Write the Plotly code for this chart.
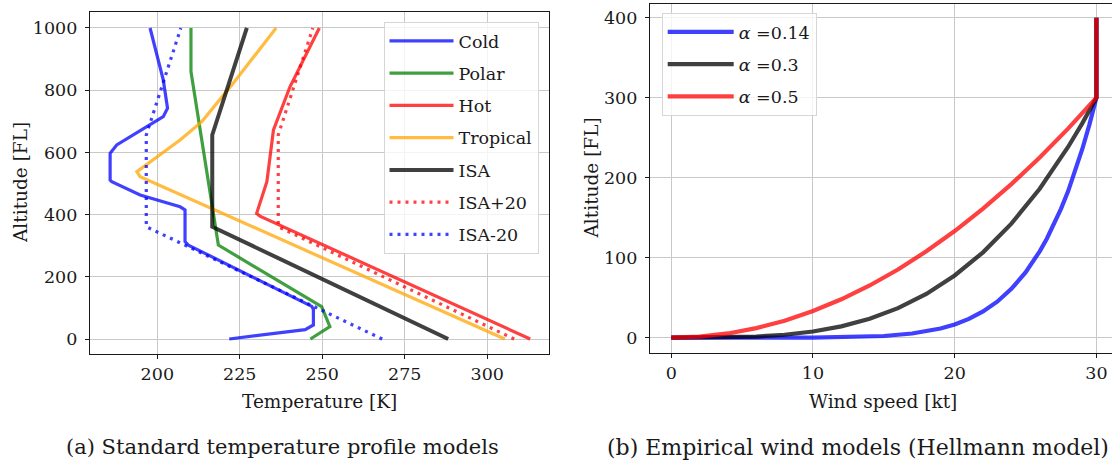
import plotly.graph_objects as go

# ---------------- Data: temperature profiles (left) ----------------
cold_fl = [0, 30, 45, 95, 105, 302, 313, 415, 425, 463, 506, 511, 597, 624, 715, 742, 833, 1000]
cold_t = [221.8, 244.8, 247.3, 247.3, 246.8, 209.4, 208.4, 208.4, 206.9, 194.8, 186.2, 185.7, 185.7, 187.7, 201.8, 203.1, 201.8, 197.8]

polar_fl = [0, 40, 104, 302, 860, 1000]
polar_t = [246.4, 252.3, 249.8, 218.5, 210.2, 210.2]

hot_fl = [0, 395, 404, 506, 672, 811, 1000]
hot_t = [313.0, 231.1, 230.1, 233.2, 235.2, 240.2, 249.1]

trop_fl = [0, 522, 538, 586, 640, 699, 758, 822, 1000]
trop_t = [305.3, 194.8, 193.8, 199.8, 206.9, 213.5, 218.0, 223.0, 236.0]

isa_fl = [0, 361, 656, 1000]
isa_t = [288.15, 216.65, 216.65, 227.13]
isap20_t = [308.15, 236.65, 236.65, 247.13]
isam20_t = [268.15, 196.65, 196.65, 207.13]

# ---------------- Data: Hellmann wind models (right) ----------------
w014 = [0, 10, 15, 17, 19, 20, 21, 22, 23, 24, 25, 25.5, 26, 26.5, 27, 27.5, 28, 28.5, 29, 29.5, 30, 30]
h014 = [0, 0.1, 2.1, 5.2, 11.5, 16.6, 23.5, 32.8, 45, 61, 81.6, 94, 108, 123.7, 141, 161, 183, 208, 235.6, 266, 300, 400]

w03 = [0, 4, 6, 8, 10, 12, 14, 16, 18, 20, 22, 24, 26, 28, 29, 30, 30]
h03 = [0, 0.4, 1.4, 3.7, 7.7, 14.2, 23.6, 36.9, 54.7, 77.8, 106.7, 142.6, 186.2, 238.4, 267.9, 300, 400]

w05 = [0, 2, 4, 6, 8, 10, 12, 14, 16, 18, 20, 22, 24, 26, 28, 30, 30]
h05 = [0, 1.3, 5.3, 12, 21.3, 33.3, 48, 65.3, 85.3, 108, 133.3, 161.3, 192, 225.3, 261.3, 300, 400]

left_ticks_x = [200, 225, 250, 275, 300]
left_ticks_y = [0, 200, 400, 600, 800, 1000]
right_ticks_x = [0, 10, 20, 30]
right_ticks_y = [0, 100, 200, 300, 400]

BLUE = "rgba(0,0,255,0.75)"
GREEN = "rgba(0,128,0,0.75)"
RED = "rgba(255,0,0,0.75)"
ORANGE = "rgba(255,165,0,0.75)"
BLACK = "rgba(0,0,0,0.75)"

SERIF = "DejaVu Serif"
CAP = "DejaVu Serif"
TXT = "#1a1a1a"
W, H = 1112, 466

fig = go.Figure()

lw = 3.2
left_series = [
    ("Cold", cold_t, cold_fl, BLUE, "solid"),
    ("Polar", polar_t, polar_fl, GREEN, "solid"),
    ("Hot", hot_t, hot_fl, RED, "solid"),
    ("Tropical", trop_t, trop_fl, ORANGE, "solid"),
    ("ISA", isa_t, isa_fl, BLACK, "solid"),
    ("ISA+20", isap20_t, isa_fl, RED, "3px,5px"),
    ("ISA-20", isam20_t, isa_fl, BLUE, "3px,5px"),
]
for name, x, y, c, d in left_series:
    fig.add_trace(go.Scatter(x=x, y=y, mode="lines", name=name, legend="legend",
                             legendgroup=name,
                             line=dict(color=c, width=lw if name != "ISA" else 4, dash=d),
                             xaxis="x", yaxis="y"))

right_series = [
    ("<i>α</i> =0.14", w014, h014, BLUE),
    ("<i>α</i> =0.3", w03, h03, BLACK),
    ("<i>α</i> =0.5", w05, h05, RED),
]
for name, x, y, c in right_series:
    fig.add_trace(go.Scatter(x=x, y=y, mode="lines", name=name, legend="legend2",
                             legendgroup=name,
                             line=dict(color=c, width=4.2),
                             xaxis="x2", yaxis="y2"))

def px_x(p):
    return p / W

def px_y(p):
    return 1 - p / H

axis_common = dict(
    showgrid=True, gridcolor="#c9c9c9", gridwidth=1,
    showline=True, linecolor=TXT, linewidth=1.2,
    ticks="outside", ticklen=4, tickwidth=1, tickcolor=TXT,
    tickfont=dict(family=SERIF, size=17.5, color=TXT),
    zeroline=False, fixedrange=True,
)

fig.update_layout(
    width=W, height=H, autosize=False,
    margin=dict(l=0, r=0, t=0, b=0),
    paper_bgcolor="white", plot_bgcolor="white",
    xaxis=dict(axis_common, domain=[px_x(90), px_x(549)], range=[179.6, 318.7],
               tickvals=left_ticks_x, mirror=True, anchor="y"),
    yaxis=dict(axis_common, domain=[px_y(354), px_y(12)], range=[-48.2, 1051.4],
               tickvals=left_ticks_y, mirror=True, anchor="x", ticklabelstandoff=4),
    xaxis2=dict(axis_common, domain=[px_x(650), 1.0], range=[-1.5, 31.1],
                tickvals=right_ticks_x, mirror=True, anchor="y2"),
    yaxis2=dict(axis_common, domain=[px_y(352.7), px_y(4.3)], range=[-18.75, 416.75],
                tickvals=right_ticks_y, mirror=False, anchor="x2", ticklabelstandoff=4),
    legend=dict(x=px_x(538.5), xanchor="right", y=px_y(22), yanchor="top",
                bgcolor="rgba(255,255,255,0.8)", bordercolor="#d6d6d6", borderwidth=1,
                font=dict(family=SERIF, size=17.5, color=TXT),
                itemwidth=64, tracegroupgap=6.5, traceorder="grouped"),
    legend2=dict(x=px_x(661.7), xanchor="left", y=px_y(13), yanchor="top",
                 bgcolor="rgba(255,255,255,0.8)", bordercolor="#d6d6d6", borderwidth=1,
                 font=dict(family=SERIF, size=17.5, color=TXT),
                 itemwidth=66, tracegroupgap=6.5, traceorder="grouped"),
    showlegend=True,
)

annos = [
    dict(text="Altitude [FL]", x=px_x(20), y=px_y(183), textangle=-90,
         font=dict(family=SERIF, size=18.5, color=TXT)),
    dict(text="Temperature [K]", x=px_x(319.5), y=px_y(401),
         font=dict(family=SERIF, size=18.5, color=TXT)),
    dict(text="Altitude [FL]", x=px_x(591), y=px_y(178.5), textangle=-90,
         font=dict(family=SERIF, size=18.5, color=TXT)),
    dict(text="Wind speed [kt]", x=px_x(883), y=px_y(401),
         font=dict(family=SERIF, size=18.5, color=TXT)),
    dict(text="(a) Standard temperature profile models", x=px_x(282), y=px_y(447),
         font=dict(family=CAP, size=21, color=TXT)),
    dict(text="(b) Empirical wind models (Hellmann model)", x=px_x(858), y=px_y(447),
         font=dict(family=CAP, size=22, color=TXT)),
]
for a in annos:
    fig.add_annotation(xref="paper", yref="paper", showarrow=False,
                       xanchor="center", yanchor="middle", **a)

fig.write_html("out.html")
